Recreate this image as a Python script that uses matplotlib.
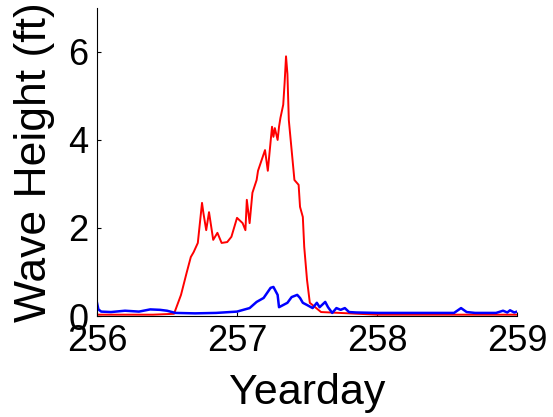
import matplotlib
matplotlib.use("Agg")
import matplotlib.pyplot as plt

red_x = [256.0, 256.2, 256.4, 256.55, 256.6, 256.64, 256.67, 256.69, 256.72, 256.75, 256.76,
         256.78, 256.8, 256.83, 256.86, 256.89, 256.93, 256.96, 257.0, 257.04, 257.06, 257.07,
         257.09, 257.11, 257.14, 257.15, 257.2, 257.22, 257.25, 257.26, 257.27, 257.29, 257.3,
         257.31, 257.33, 257.34, 257.35, 257.36, 257.37, 257.39, 257.41, 257.44, 257.45, 257.47,
         257.48, 257.5, 257.52, 257.6, 258.0, 258.5, 259.0]
red_y = [0.03, 0.03, 0.03, 0.05, 0.48, 0.98, 1.34, 1.45, 1.66, 2.57, 2.34, 1.95, 2.36, 1.73,
         1.89, 1.66, 1.68, 1.8, 2.23, 2.11, 1.95, 2.64, 2.11, 2.8, 3.09, 3.3, 3.77, 3.3, 4.3, 4.07,
         4.27, 4.0, 4.3, 4.5, 4.8, 5.3, 5.9, 5.5, 4.45, 3.77, 3.09, 2.98, 2.48, 2.25, 1.57, 0.82,
         0.3, 0.09, 0.03, 0.03, 0.03]

blue_x = [256.0, 256.01, 256.03, 256.1, 256.2, 256.3, 256.38, 256.45, 256.5, 256.56, 256.7,
          256.85, 257.0, 257.09, 257.14, 257.19, 257.24, 257.26, 257.29, 257.3, 257.33, 257.36,
          257.39, 257.43, 257.45, 257.47, 257.5, 257.54, 257.57, 257.59, 257.63, 257.65, 257.68,
          257.71, 257.74, 257.77, 257.8, 257.85, 258.0, 258.3, 258.55, 258.6, 258.64, 258.7,
          258.85, 258.9, 258.93, 258.95, 258.98, 259.0]
blue_y = [0.3, 0.15, 0.1, 0.09, 0.12, 0.1, 0.15, 0.14, 0.12, 0.07, 0.06, 0.07, 0.1, 0.18,
          0.32, 0.41, 0.64, 0.66, 0.48, 0.2, 0.25, 0.3, 0.43, 0.48, 0.41, 0.3, 0.25, 0.18, 0.3,
          0.2, 0.32, 0.2, 0.07, 0.18, 0.14, 0.18, 0.09, 0.08, 0.07, 0.07, 0.07, 0.18, 0.09, 0.07,
          0.07, 0.12, 0.08, 0.13, 0.08, 0.1]

x_ticks = [256, 257, 258, 259]
y_ticks = [0, 2, 4, 6]

plt.rcParams['font.family'] = ['Liberation Sans', 'DejaVu Sans']
fig = plt.figure(figsize=(5.53, 4.17), dpi=100)
ax = fig.add_axes([0.1754, 0.2422, 0.7596, 0.7388])
ax.plot(red_x, red_y, color='red', lw=1.4)
ax.plot(blue_x, blue_y, color='blue', lw=1.8)
ax.set_xlim(256, 259)
ax.set_ylim(0, 7)
ax.set_xticks(x_ticks)
ax.set_yticks(y_ticks)
ax.tick_params(direction='in', length=3, labelsize=26, pad=6)
for s in ['top', 'right']:
    ax.spines[s].set_visible(False)
ax.set_xlabel('Yearday', fontsize=31, labelpad=10)
ax.set_ylabel('Wave Height (ft)', fontsize=32, labelpad=10)
fig.savefig('out.png', dpi=100)
